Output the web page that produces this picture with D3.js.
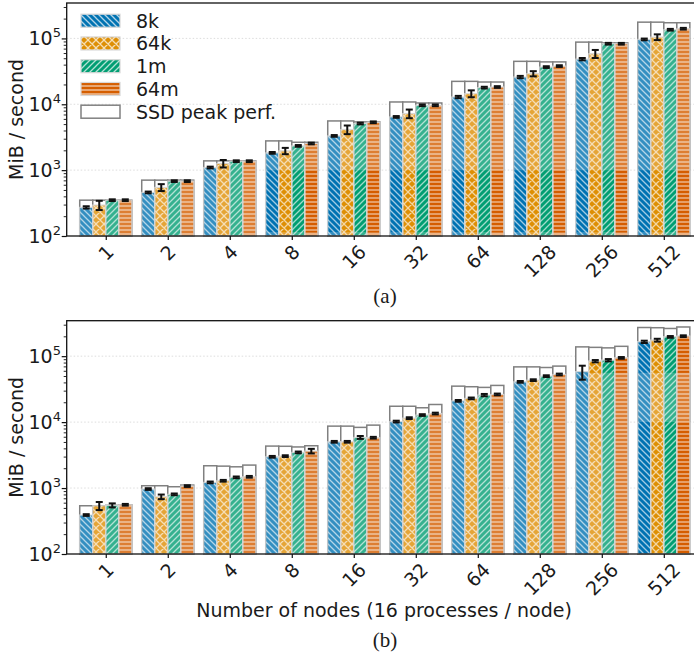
<!DOCTYPE html>
<html>
<head>
<meta charset="utf-8">
<script src="https://cdn.jsdelivr.net/npm/d3@7"></script>
<style>
  body { margin: 0; background: #fff; }
  svg { display: block; }
  text { font-family: "DejaVu Sans", sans-serif; fill: #1a1a1a; }
</style>
</head>
<body>
<svg id="chart" width="694" height="658"></svg>
<script>
// ---- data -------------------------------------------------------------
const nodeCounts = ["1", "2", "4", "8", "16", "32", "64", "128", "256", "512"];
const fileSizes = ["8k", "64k", "1m", "64m"];
const sizeColors = ["#0173b2", "#de8f05", "#029e73", "#d55e00"];
const yTickExponents = [2, 3, 4, 5];

// (a) throughput, MiB/s, per file size
const a8k  = [272, 459, 1097, 1829, 3311, 6430, 12900, 25940, 48500, 96600];
const a64k = [295, 547, 1262, 1961, 4140, 7230, 14530, 29170, 58600, 104800];
const a1m  = [350, 681, 1368, 2335, 5105, 9660, 17910, 36720, 83100, 135500];
const a64m = [350, 681, 1368, 2541, 5334, 9660, 18290, 38010, 83000, 140300];
// (a) SSD peak performance per bar
const aPeak8k  = [350, 705, 1383, 2780, 5585, 10840, 22280, 44870, 87900, 176600];
const aPeak64k = [350, 705, 1383, 2780, 5585, 10840, 22280, 44870, 87900, 176600];
const aPeak1m  = [350, 705, 1383, 2650, 5400, 10470, 21780, 44000, 85500, 173000];
const aPeak64m = [350, 705, 1383, 2650, 5400, 10470, 21780, 44000, 85500, 173000];
// (a) error half-width, percent of value
const aErr8k  = [4, 3, 3, 3, 3, 3, 4, 4, 4, 3];
const aErr64k = [16, 12, 13, 11, 15, 15, 12, 9, 14, 10];
const aErr1m  = [3, 3, 3, 3, 3, 3, 3, 3, 3, 3];
const aErr64m = [3, 3, 3, 3, 3, 3, 3, 3, 3, 3];

// (b) throughput, MiB/s, per file size
const b8k  = [390, 966, 1219, 2980, 5030, 10200, 21000, 40800, 57800, 165000];
const b64k = [539, 738, 1290, 3050, 5030, 11500, 22900, 43300, 84000, 174800];
const b1m  = [547, 803, 1453, 3475, 5860, 12800, 25700, 49800, 86900, 196000];
const b64m = [558, 1072, 1482, 3640, 5800, 13500, 26300, 52800, 94200, 201000];
// (b) SSD peak performance per bar
const bPeak8k  = [539, 1084, 2178, 4330, 8690, 17400, 35100, 68800, 138300, 272000];
const bPeak64k = [539, 1084, 2150, 4300, 8690, 17400, 34400, 68800, 136000, 270000];
const bPeak1m  = [547, 1047, 2100, 4200, 8320, 16500, 33600, 67300, 133600, 263000];
const bPeak64m = [558, 1110, 2230, 4380, 9000, 18500, 36000, 70700, 141000, 277000];
// (b) error half-width, percent of value
const bErr8k  = [3, 3, 3, 3, 3, 3, 3, 3, 24, 4];
const bErr64k = [14, 8, 3, 3, 3, 3, 3, 3, 4, 5];
const bErr1m  = [7, 3, 3, 3, 5, 3, 4, 3, 4, 3];
const bErr64m = [3, 3, 3, 8, 3, 3, 3, 3, 3, 3];

// value ranges (per group span) where bars print at full colour strength
const aSolidBands = [{ from: 3, to: 9, lo: 115, hi: 1000 }];
const bSolidBands = [{ from: 8, to: 9, lo: 56000, hi: 400000 }, { from: 9, to: 9, lo: 100, hi: 10000 }];

// ---- layout -----------------------------------------------------------
const svg = d3.select("#chart");
const FS = 19;
const x = d3.scaleLinear().domain([-0.63, 9.5]).range([66.7, 694.8]);
const barUnit = 0.21;
const bw = x(barUnit) - x(0);

// hatch patterns, one per file size
const defs = svg.append("defs");
const hatchPaths = [
  { id: "h0", size: 6, d: "M0,0L6,6M-1,5L1,7M5,-1L7,1" },
  { id: "h1", size: 8, d: "M0,0L8,8M8,0L0,8M-1,7L1,9M7,-1L9,1M-1,1L1,-1M7,9L9,7" },
  { id: "h2", size: 6, d: "M0,6L6,0M-1,1L1,-1M5,7L7,5" },
  { id: "h3", size: 4, d: "M0,2L4,2" }
];
hatchPaths.forEach(h => {
  defs.append("pattern")
    .attr("id", h.id).attr("patternUnits", "userSpaceOnUse")
    .attr("width", h.size).attr("height", h.size)
    .append("path").attr("d", h.d)
    .attr("stroke", "#fff").attr("stroke-opacity", 0.7)
    .attr("stroke-width", 1.3).attr("fill", "none");
});

const panels = [
  { key: "a", top: 3, bottom: 236, vals: [a8k, a64k, a1m, a64m], peaks: [aPeak8k, aPeak64k, aPeak1m, aPeak64m],
    errs: [aErr8k, aErr64k, aErr1m, aErr64m], bands: aSolidBands, caption: "(a)", capY: 303, legend: true, xlabel: false },
  { key: "b", top: 320.7, bottom: 554, vals: [b8k, b64k, b1m, b64m], peaks: [bPeak8k, bPeak64k, bPeak1m, bPeak64m],
    errs: [bErr8k, bErr64k, bErr1m, bErr64m], bands: bSolidBands, caption: "(b)", capY: 647, legend: false, xlabel: true }
];

function barX(i, j) { return x(i + (j - 1.5) * barUnit) - bw / 2; }

panels.forEach(p => {
  const g = svg.append("g");
  const y = d3.scaleLog().domain([100, 3.45e5]).range([p.bottom, p.top]);
  const x0 = x.range()[0], x1 = x.range()[1];

  // dotted grid at decades
  g.selectAll("line.grid").data([1e3, 1e4, 1e5]).join("line")
    .attr("x1", x0).attr("x2", x1).attr("y1", d => y(d)).attr("y2", d => y(d))
    .attr("stroke", "#d4d4d4").attr("stroke-width", 0.8).attr("stroke-dasharray", "1.5,2");

  const cells = [];
  fileSizes.forEach((s, j) => nodeCounts.forEach((n, i) => {
    cells.push({ i, j, v: p.vals[j][i], peak: p.peaks[j][i], err: p.errs[j][i] });
  }));

  // SSD peak boxes behind the measured bars
  g.selectAll("rect.peak").data(cells).join("rect")
    .attr("x", d => barX(d.i, d.j)).attr("width", bw)
    .attr("y", d => y(d.peak)).attr("height", d => y(100) - y(d.peak))
    .attr("fill", "#fff").attr("stroke", "#808080").attr("stroke-width", 1.5);

  function drawBars(layer, opacity, hatchOpacity) {
    layer.selectAll("rect.fill").data(cells).join("rect")
      .attr("x", d => barX(d.i, d.j)).attr("width", bw)
      .attr("y", d => y(d.v)).attr("height", d => y(100) - y(d.v))
      .attr("fill", d => sizeColors[d.j]).attr("fill-opacity", opacity);
    layer.selectAll("rect.hatch").data(cells).join("rect")
      .attr("x", d => barX(d.i, d.j)).attr("width", bw)
      .attr("y", d => y(d.v)).attr("height", d => y(100) - y(d.v))
      .attr("fill", d => `url(#h${d.j})`).attr("opacity", hatchOpacity)
      .attr("stroke", "#d8d8d8").attr("stroke-width", 1.2);
  }
  const base = g.append("g");
  drawBars(base, 0.8, 0.9);

  // full-strength colour bands
  const clipId = "solid-" + p.key;
  const clip = defs.append("clipPath").attr("id", clipId);
  p.bands.forEach(b => {
    clip.append("rect")
      .attr("x", x(b.from - 0.45)).attr("width", x(b.to + 0.45) - x(b.from - 0.45))
      .attr("y", y(Math.min(b.hi, 3.45e5))).attr("height", y(b.lo) - y(Math.min(b.hi, 3.45e5)));
  });
  const solid = g.append("g").attr("clip-path", `url(#${clipId})`);
  drawBars(solid, 1, 0.9);

  // error bars
  const eb = g.append("g").attr("stroke", "#111").attr("stroke-width", 2);
  cells.forEach(d => {
    const cx = x(d.i + (d.j - 1.5) * barUnit);
    const lo = y(d.v * (1 - d.err / 100)), hi = y(d.v * (1 + d.err / 100));
    eb.append("line").attr("x1", cx).attr("x2", cx).attr("y1", lo).attr("y2", hi);
    eb.append("line").attr("x1", cx - 3.5).attr("x2", cx + 3.5).attr("y1", lo).attr("y2", lo);
    eb.append("line").attr("x1", cx - 3.5).attr("x2", cx + 3.5).attr("y1", hi).attr("y2", hi);
  });

  // frame
  g.append("rect").attr("x", x0).attr("y", p.top).attr("width", x1 - x0).attr("height", p.bottom - p.top)
    .attr("fill", "none").attr("stroke", "#111").attr("stroke-width", 1.3);

  // y axis: major and minor ticks
  const minor = [];
  for (let e = 2; e <= 5; e++) for (let m = 2; m <= 9; m++) if (m * 10 ** e <= 3.45e5) minor.push(m * 10 ** e);
  g.append("g").attr("transform", `translate(${x0},0)`)
    .call(d3.axisLeft(y).tickValues(minor).tickSize(3).tickFormat(""))
    .call(a => a.select(".domain").remove())
    .call(a => a.selectAll("line").attr("stroke", "#111").attr("stroke-width", 0.9));
  g.append("g").attr("transform", `translate(${x0},0)`)
    .call(d3.axisLeft(y).tickValues(yTickExponents.map(e => 10 ** e)).tickSize(5).tickFormat(""))
    .call(a => a.select(".domain").remove())
    .call(a => a.selectAll("line").attr("stroke", "#111").attr("stroke-width", 1.2));
  yTickExponents.forEach(e => {
    const t = g.append("text").attr("x", 61).attr("y", y(10 ** e) + 7)
      .attr("text-anchor", "end").attr("font-size", FS);
    t.append("tspan").text("10");
    t.append("tspan").attr("dy", -8.5).attr("font-size", 13).text(e);
  });
  g.append("text").attr("transform", `translate(22.5,${(p.top + p.bottom) / 2}) rotate(-90)`)
    .attr("text-anchor", "middle").attr("font-size", FS).text("MiB / second");

  // x axis ticks and rotated labels
  g.append("g").attr("transform", `translate(0,${p.bottom})`)
    .call(d3.axisBottom(x).tickValues(d3.range(nodeCounts.length)).tickSize(4).tickFormat(""))
    .call(a => a.select(".domain").remove())
    .call(a => a.selectAll("line").attr("stroke", "#111").attr("stroke-width", 1.2));
  nodeCounts.forEach((n, i) => {
    const t = g.append("text").attr("font-size", FS).attr("text-anchor", "middle")
      .attr("dominant-baseline", "central").text(n);
    const L = t.node().getComputedTextLength();
    const off = 6 + (L + 17.5) * 0.3535;
    t.attr("transform", `translate(${x(i)},${p.bottom + off}) rotate(-45)`);
  });

  if (p.xlabel) {
    g.append("text").attr("x", 384).attr("y", 617).attr("text-anchor", "middle")
      .attr("font-size", FS).text("Number of nodes (16 processes / node)");
  }
  g.append("text").attr("x", 385).attr("y", p.capY).attr("text-anchor", "middle")
    .attr("font-size", 21).style("font-family", '"Liberation Serif", serif').text(p.caption);

  // legend
  if (p.legend) {
    const lg = g.append("g");
    const entries = fileSizes.map((s, j) => ({ label: s, j })).concat([{ label: "SSD peak perf.", j: -1 }]);
    entries.forEach((e, k) => {
      const cy = 20.7 + k * 22.75;
      if (e.j >= 0) {
        lg.append("rect").attr("x", 81).attr("y", cy - 6.5).attr("width", 39).attr("height", 13)
          .attr("fill", sizeColors[e.j]);
        lg.append("rect").attr("x", 81).attr("y", cy - 6.5).attr("width", 39).attr("height", 13)
          .attr("fill", `url(#h${e.j})`).attr("stroke", "#d8d8d8").attr("stroke-width", 1.2);
      } else {
        lg.append("rect").attr("x", 81).attr("y", cy - 6.5).attr("width", 39).attr("height", 13)
          .attr("fill", "#fff").attr("stroke", "#808080").attr("stroke-width", 1.5);
      }
      lg.append("text").attr("x", 136).attr("y", cy + 7).attr("font-size", FS).text(e.label);
    });
  }
});
</script>
</body>
</html>
